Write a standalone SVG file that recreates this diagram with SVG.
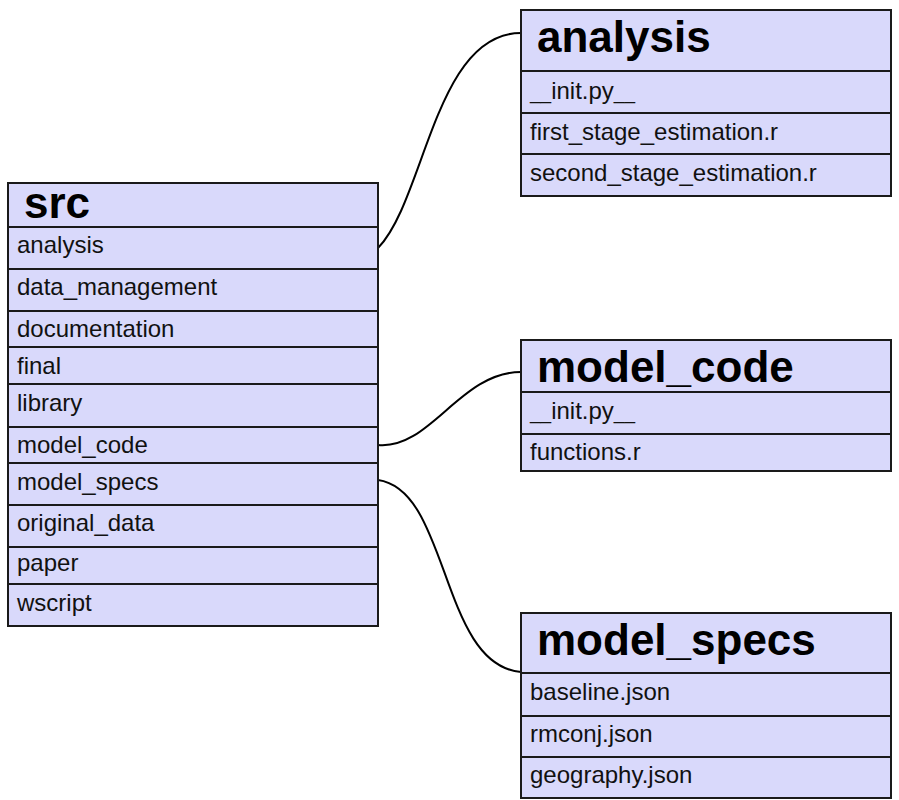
<svg xmlns="http://www.w3.org/2000/svg" width="899" height="800" viewBox="0 0 899 800">
<style>
.box{fill:#d9d9fb;stroke:#1a1a1a;stroke-width:2}
.div{stroke:#1a1a1a;stroke-width:2}
.hd{font-family:"Liberation Sans",Arial,sans-serif;font-weight:bold;font-size:44px;fill:#000}
.it{font-family:"Liberation Sans",Arial,sans-serif;font-size:24px;fill:#111}
.us{font-size:19px}
.edge{fill:none;stroke:#000;stroke-width:2}
</style>
<rect width="899" height="800" fill="#fff"/>
<g id="connectors">
<path class="edge" d="M378,248 C425,200 435,33 521,33"/>
<path class="edge" d="M378,445 C430,450 460,372 521,372"/>
<path class="edge" d="M378,480 C450,490 440,665 521,672"/>
</g>
<g id="src">
<rect class="box" x="8" y="183" width="370" height="443"/>
<line class="div" x1="8" y1="227" x2="378" y2="227"/>
<line class="div" x1="8" y1="269" x2="378" y2="269"/>
<line class="div" x1="8" y1="311" x2="378" y2="311"/>
<line class="div" x1="8" y1="347" x2="378" y2="347"/>
<line class="div" x1="8" y1="384" x2="378" y2="384"/>
<line class="div" x1="8" y1="427" x2="378" y2="427"/>
<line class="div" x1="8" y1="463" x2="378" y2="463"/>
<line class="div" x1="8" y1="505" x2="378" y2="505"/>
<line class="div" x1="8" y1="547" x2="378" y2="547"/>
<line class="div" x1="8" y1="584" x2="378" y2="584"/>
<text class="hd" x="24" y="218">src</text>
<text class="it" x="17" y="253">analysis</text>
<text class="it" x="17" y="295">data_management</text>
<text class="it" x="17" y="337">documentation</text>
<text class="it" x="17" y="374">final</text>
<text class="it" x="17" y="411">library</text>
<text class="it" x="17" y="453">model_code</text>
<text class="it" x="17" y="490">model_specs</text>
<text class="it" x="17" y="531">original_data</text>
<text class="it" x="17" y="571">paper</text>
<text class="it" x="17" y="611">wscript</text>
</g>
<g id="analysis">
<rect class="box" x="521" y="10" width="370" height="186"/>
<line class="div" x1="521" y1="71" x2="891" y2="71"/>
<line class="div" x1="521" y1="113" x2="891" y2="113"/>
<line class="div" x1="521" y1="154" x2="891" y2="154"/>
<text class="hd" x="537" y="52">analysis</text>
<text class="it" x="530" y="99"><tspan class="us">__</tspan>init.py<tspan class="us">__</tspan></text>
<text class="it" x="530" y="140">first_stage_estimation.r</text>
<text class="it" x="530" y="181">second_stage_estimation.r</text>
</g>
<g id="model_code">
<rect class="box" x="521" y="340" width="370" height="131"/>
<line class="div" x1="521" y1="392" x2="891" y2="392"/>
<line class="div" x1="521" y1="434" x2="891" y2="434"/>
<text class="hd" x="537" y="382">model_code</text>
<text class="it" x="530" y="419"><tspan class="us">__</tspan>init.py<tspan class="us">__</tspan></text>
<text class="it" x="530" y="460">functions.r</text>
</g>
<g id="model_specs">
<rect class="box" x="521" y="613" width="370" height="185"/>
<line class="div" x1="521" y1="673" x2="891" y2="673"/>
<line class="div" x1="521" y1="716" x2="891" y2="716"/>
<line class="div" x1="521" y1="757" x2="891" y2="757"/>
<text class="hd" x="537" y="655">model_specs</text>
<text class="it" x="530" y="700">baseline.json</text>
<text class="it" x="530" y="742">rmconj.json</text>
<text class="it" x="530" y="783">geography.json</text>
</g>
</svg>
